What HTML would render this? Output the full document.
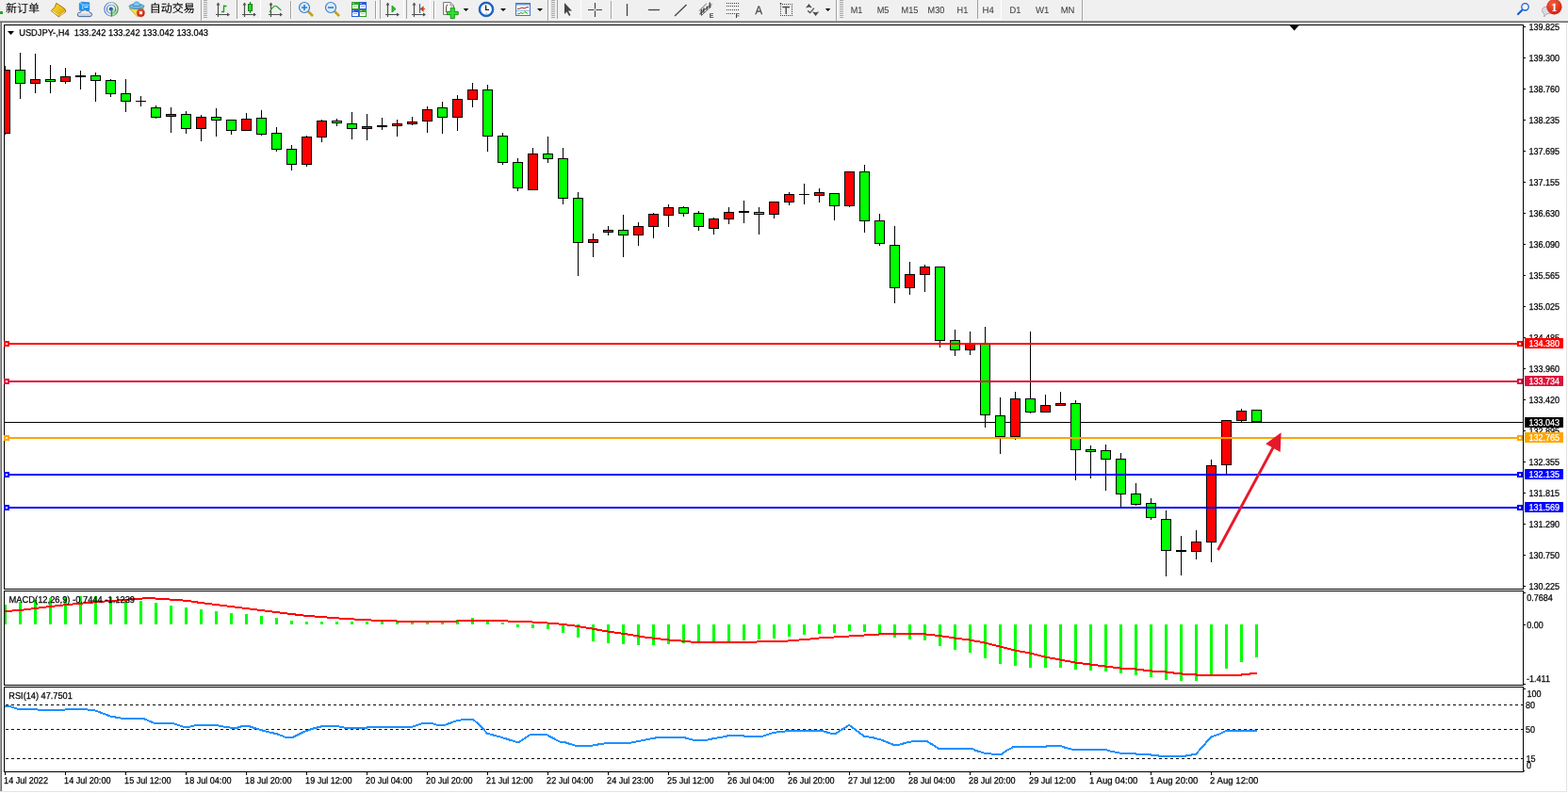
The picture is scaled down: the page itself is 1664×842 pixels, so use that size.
<!DOCTYPE html><html><head><meta charset="utf-8"><title>USDJPY-,H4</title><style>html,body{margin:0;padding:0;background:#f0f0f0;}body{width:1664px;height:842px;overflow:hidden;}svg{display:block;}</style></head><body><svg width="1664" height="842" viewBox="0 0 1664 842" shape-rendering="crispEdges">
<style>.ax{font-family:'Liberation Sans', Arial, sans-serif;font-size:10px;fill:#000;stroke:#000;stroke-width:0.25px}.ax.axw{fill:#fff;stroke:#fff}.tf{font-family:'Liberation Sans', Arial, sans-serif;font-size:9.9px;fill:#3c3c3c;stroke:#3c3c3c;stroke-width:0.05px}.cjk{font-family:'Liberation Sans', 'Noto Sans CJK SC', 'WenQuanYi Zen Hei', sans-serif;font-size:12px;fill:#000;stroke:#000;stroke-width:0.08px}text{shape-rendering:auto;text-rendering:geometricPrecision}</style>
<rect x="0" y="0" width="1664" height="22" fill="#f0f0f0"/>
<g shape-rendering="auto">
<rect x="0" y="12" width="3" height="3" fill="#1fae1f"/>
<text x="6" y="12.9" class="cjk">新订单</text>
<defs><linearGradient id="gbook" x1="0" y1="0" x2="1" y2="1"><stop offset="0" stop-color="#ffe040"/><stop offset="0.6" stop-color="#e8b818"/><stop offset="1" stop-color="#c88c10"/></linearGradient><linearGradient id="gcloud" x1="0" y1="0" x2="0" y2="1"><stop offset="0" stop-color="#ffffff"/><stop offset="1" stop-color="#b8c4d8"/></linearGradient><radialGradient id="gred" cx="0.4" cy="0.3" r="0.8"><stop offset="0" stop-color="#f06040"/><stop offset="1" stop-color="#d01808"/></radialGradient></defs>
<path d="M54.3,11.6 L58.4,7.2 L59.8,3.3 L68.8,9.4 L69.8,12.4 L62.3,17.8 Z" fill="url(#gbook)" stroke="#a06410" stroke-width="0.9" stroke-linejoin="round"/>
<path d="M55.5,12 L62,16.3 M63.5,16.5 L69,12.2" stroke="#f8e8a0" stroke-width="1" fill="none"/>
<path d="M84.3,3.5 L86.5,2.2 L94.8,2.8 L94.8,11 L84.3,11 Z" fill="#1898f0" stroke="#1a70d0" stroke-width="0.6"/>
<path d="M85,2.8 L87.8,5.2 L87.8,10.5 M88,5.2 L94.5,5.2" stroke="#d0f0ff" stroke-width="0.8" fill="none"/>
<path d="M89.5,7.5 L93.5,7.2" stroke="#ffffff" stroke-width="1.1"/>
<path d="M84.2,17.6 Q81.8,17.4 82.3,14.8 Q82.9,12.6 85.3,13.3 Q85.6,10.6 88.5,11.2 Q90.3,9.8 92.2,11.6 Q94.6,10.9 95.2,13.2 Q97.8,13.4 97.6,15.6 Q97.3,17.7 95.2,17.6 Z" fill="url(#gcloud)" stroke="#3c5c94" stroke-width="0.9"/>
<defs><linearGradient id="gring" x1="0" y1="0" x2="1" y2="0"><stop offset="0" stop-color="#4a78d8"/><stop offset="0.55" stop-color="#9ab8d8"/><stop offset="1" stop-color="#3a9050"/></linearGradient></defs>
<path d="M118,9.7 L125.3,9.7 A7.3,7.3 0 0 1 118,17 Z" fill="#b8e0b0"/>
<circle cx="118" cy="9.7" r="7.2" fill="none" stroke="url(#gring)" stroke-width="1.1"/>
<circle cx="118" cy="9.7" r="4.6" fill="none" stroke="url(#gring)" stroke-width="1.1"/>
<circle cx="117.8" cy="9.5" r="2.1" fill="#2858c8"/>
<path d="M118.4,10 L118.4,17.6" stroke="#20a020" stroke-width="1.5"/>
<path d="M137.3,9 L152.5,9 L146,17.8 Z" fill="#f4dc50" stroke="#c89818" stroke-width="0.8" stroke-linejoin="round"/>
<ellipse cx="145" cy="6.8" rx="8" ry="2.6" fill="#6cbcec" stroke="#2a80b0" stroke-width="0.8"/>
<path d="M141.2,6.5 Q141.5,2 145,2 Q148.5,2 148.8,6.5 Z" fill="#7cc8f2" stroke="#2a80b0" stroke-width="0.7"/>
<circle cx="149.4" cy="13.7" r="4" fill="url(#gred)" stroke="#b01000" stroke-width="0.5"/>
<rect x="148" y="12.2" width="3" height="3" fill="#fff"/>
</g>
<text x="158.8" y="12.9" class="cjk">自动交易</text>
<defs><pattern id="chk" width="2" height="2" patternUnits="userSpaceOnUse"><rect width="2" height="2" fill="#f7f7f7"/><rect width="1" height="1" fill="#ececec"/><rect x="1" y="1" width="1" height="1" fill="#ececec"/></pattern></defs>
<rect x="213" y="0" width="1" height="22" fill="#a0a0a0"/>
<rect x="214" y="0" width="1" height="22" fill="#ffffff"/>
<rect x="216" y="0" width="4" height="1" fill="#a8a8a8"/>
<rect x="216" y="2" width="4" height="1" fill="#a8a8a8"/>
<rect x="216" y="4" width="4" height="1" fill="#a8a8a8"/>
<rect x="216" y="6" width="4" height="1" fill="#a8a8a8"/>
<rect x="216" y="8" width="4" height="1" fill="#a8a8a8"/>
<rect x="216" y="10" width="4" height="1" fill="#a8a8a8"/>
<rect x="216" y="12" width="4" height="1" fill="#a8a8a8"/>
<rect x="216" y="14" width="4" height="1" fill="#a8a8a8"/>
<rect x="216" y="16" width="4" height="1" fill="#a8a8a8"/>
<rect x="216" y="18" width="4" height="1" fill="#a8a8a8"/>
<rect x="252" y="0" width="24" height="20" fill="url(#chk)"/>
<rect x="276" y="0" width="1" height="21" fill="#ffffff"/>
<rect x="251" y="20" width="26" height="1" fill="#ffffff"/>
<rect x="404" y="0" width="24" height="20" fill="url(#chk)"/>
<rect x="428" y="0" width="1" height="21" fill="#ffffff"/>
<rect x="403" y="20" width="26" height="1" fill="#ffffff"/>
<rect x="432" y="0" width="24" height="20" fill="url(#chk)"/>
<rect x="456" y="0" width="1" height="21" fill="#ffffff"/>
<rect x="431" y="20" width="26" height="1" fill="#ffffff"/>
<rect x="592" y="0" width="24" height="20" fill="url(#chk)"/>
<rect x="616" y="0" width="1" height="21" fill="#ffffff"/>
<rect x="591" y="20" width="26" height="1" fill="#ffffff"/>
<rect x="1038" y="0" width="24" height="20" fill="url(#chk)"/>
<rect x="1062" y="0" width="1" height="21" fill="#ffffff"/>
<rect x="1037" y="20" width="26" height="1" fill="#ffffff"/>
<g shape-rendering="auto">
<path d="M231.5,3 L231.5,18 M229,15.5 L243,15.5" stroke="#505050" stroke-width="1.2" fill="none"/>
<path d="M229.5,5.5 L231.5,2.5 L233.5,5.5 Z M241,13.5 L244,15.5 L241,17.5 Z" fill="#505050"/>
<path d="M237.5,13 L237.5,5.5 M235,12.5 L238,12.5 M238,6.5 L240.5,6.5" stroke="#18a018" stroke-width="1.3" fill="none"/>
<rect x="251" y="1" width="1" height="19" fill="#a0a0a0"/>
<rect x="252" y="1" width="1" height="19" fill="#ffffff"/>
<path d="M259.5,3 L259.5,18 M257,15.5 L271,15.5" stroke="#505050" stroke-width="1.2" fill="none"/>
<path d="M257.5,5.5 L259.5,2.5 L261.5,5.5 Z M269,13.5 L272,15.5 L269,17.5 Z" fill="#505050"/>
<path d="M265.5,2 L265.5,14" stroke="#109010" stroke-width="1.2"/>
<rect x="263.5" y="4.5" width="4" height="7" fill="#30d030" stroke="#108010"/>
<path d="M287.5,3 L287.5,18 M285,15.5 L299,15.5" stroke="#505050" stroke-width="1.2" fill="none"/>
<path d="M285.5,5.5 L287.5,2.5 L289.5,5.5 Z M297,13.5 L300,15.5 L297,17.5 Z" fill="#505050"/>
<path d="M286,13 Q291,4 294,7 T298.5,11" stroke="#30a030" stroke-width="1.2" fill="none"/>
<rect x="308" y="1" width="1" height="19" fill="#a0a0a0"/>
<rect x="309" y="1" width="1" height="19" fill="#ffffff"/>
<path d="M326,11 L332,17" stroke="#c8a020" stroke-width="2.6"/>
<circle cx="323" cy="8" r="5.5" fill="#d8ecfa" stroke="#3a80c8" stroke-width="1.2"/>
<path d="M320,8 L326,8 M323,5 L323,11" stroke="#3a7ab8" stroke-width="1.6"/>
<path d="M354,11 L360,17" stroke="#c8a020" stroke-width="2.6"/>
<circle cx="351" cy="8" r="5.5" fill="#d8ecfa" stroke="#3a80c8" stroke-width="1.2"/>
<path d="M348,8 L354,8" stroke="#3a7ab8" stroke-width="1.6"/>
<rect x="373" y="2" width="8" height="8" fill="#2ea02e"/><rect x="381" y="2" width="8" height="8" fill="#2a5ed8"/>
<rect x="373" y="10" width="8" height="8" fill="#2a5ed8"/><rect x="381" y="10" width="8" height="8" fill="#2ea02e"/>
<rect x="374" y="5" width="6" height="4" rx="0.5" fill="#ffffff"/>
<rect x="375" y="6" width="4" height="1" fill="#a8d890"/>
<rect x="374.5" y="3" width="1" height="1" fill="#e8f0e8"/>
<rect x="382" y="5" width="6" height="4" rx="0.5" fill="#ffffff"/>
<rect x="383" y="6" width="4" height="1" fill="#90a8e8"/>
<rect x="382.5" y="3" width="1" height="1" fill="#e8f0e8"/>
<rect x="374" y="13" width="6" height="4" rx="0.5" fill="#ffffff"/>
<rect x="375" y="14" width="4" height="1" fill="#90a8e8"/>
<rect x="374.5" y="11" width="1" height="1" fill="#e8f0e8"/>
<rect x="382" y="13" width="6" height="4" rx="0.5" fill="#ffffff"/>
<rect x="383" y="14" width="4" height="1" fill="#a8d890"/>
<rect x="382.5" y="11" width="1" height="1" fill="#e8f0e8"/>
<rect x="398" y="1" width="1" height="19" fill="#a0a0a0"/>
<rect x="399" y="1" width="1" height="19" fill="#ffffff"/>
<rect x="403" y="1" width="1" height="19" fill="#a0a0a0"/>
<rect x="404" y="1" width="1" height="19" fill="#ffffff"/>
<path d="M411.5,3 L411.5,18 M409,15.5 L423,15.5" stroke="#505050" stroke-width="1.2" fill="none"/>
<path d="M409.5,5.5 L411.5,2.5 L413.5,5.5 Z M421,13.5 L424,15.5 L421,17.5 Z" fill="#505050"/>
<path d="M416,6 L420,9.5 L416,13 Z" fill="#30c030" stroke="#109010" stroke-width="0.8"/>
<rect x="431" y="1" width="1" height="19" fill="#a0a0a0"/>
<rect x="432" y="1" width="1" height="19" fill="#ffffff"/>
<path d="M439.5,3 L439.5,18 M437,15.5 L451,15.5" stroke="#505050" stroke-width="1.2" fill="none"/>
<path d="M437.5,5.5 L439.5,2.5 L441.5,5.5 Z M449,13.5 L452,15.5 L449,17.5 Z" fill="#505050"/>
<path d="M445.5,4 L445.5,14" stroke="#2070c0" stroke-width="1.2"/>
<path d="M447,9.5 L451,9.5 M446.5,9.5 L449,7.5 L449,11.5 Z" stroke="#d04010" stroke-width="1.2" fill="#d04010"/>
<rect x="460" y="1" width="1" height="19" fill="#a0a0a0"/>
<rect x="461" y="1" width="1" height="19" fill="#ffffff"/>
<path d="M470.5,2.5 L478,2.5 L481.5,6 L481.5,15.5 L470.5,15.5 Z" fill="#fbfbfb" stroke="#7a7a7a"/>
<path d="M478,2.5 L478,6 L481.5,6" fill="none" stroke="#7a7a7a" stroke-width="0.8"/>
<path d="M475.5,5 Q473.5,5 473.5,8 L473.5,13" stroke="#504030" stroke-width="0.9" fill="none"/>
<path d="M478.2,8.3 L482.3,8.3 L482.3,12.3 L486.2,12.3 L486.2,15.6 L482.3,15.6 L482.3,19.6 L478.2,19.6 L478.2,15.6 L474.5,15.6 L474.5,12.3 L478.2,12.3 Z" fill="#2ee02e" stroke="#0c8a0c" stroke-width="0.9"/>
<path d="M491.7,9 L497.3,9 L494.5,12 Z" fill="#000"/>
<circle cx="516" cy="9.9" r="6.9" fill="#fafcff" stroke="#1464cc" stroke-width="2"/>
<circle cx="516" cy="9.9" r="7.9" fill="none" stroke="#0a4aa0" stroke-width="0.6"/>
<path d="M515.6,5.5 L515.6,10.3 L519,10.3" stroke="#202020" stroke-width="1.2" fill="none"/>
<path d="M515.5,14.3 L517,14.3" stroke="#60a0f0" stroke-width="0.8"/>
<path d="M531,9 L537,9 L534,12 Z" fill="#000"/>
<rect x="547.5" y="3.5" width="15" height="13" fill="#ffffff" stroke="#3c78c8"/>
<rect x="548" y="4" width="14" height="1.5" fill="#6aa0e0"/>
<path d="M549,9.5 L552,9 L554,8 L556,9 L558,8 L561,7.5" stroke="#a02010" stroke-width="1" fill="none"/>
<rect x="548" y="11" width="14" height="0.8" fill="#7aa8e0"/>
<path d="M549,15 L551,14.5 L553,13.5 L555,14.5 L557,12.5 L560,14.5" stroke="#10a010" stroke-width="1" fill="none"/>
<path d="M570,9 L576,9 L573,12 Z" fill="#000"/>
</g>
<rect x="581" y="0" width="1" height="22" fill="#a0a0a0"/>
<rect x="582" y="0" width="1" height="22" fill="#ffffff"/>
<rect x="585" y="0" width="4" height="1" fill="#a8a8a8"/>
<rect x="585" y="2" width="4" height="1" fill="#a8a8a8"/>
<rect x="585" y="4" width="4" height="1" fill="#a8a8a8"/>
<rect x="585" y="6" width="4" height="1" fill="#a8a8a8"/>
<rect x="585" y="8" width="4" height="1" fill="#a8a8a8"/>
<rect x="585" y="10" width="4" height="1" fill="#a8a8a8"/>
<rect x="585" y="12" width="4" height="1" fill="#a8a8a8"/>
<rect x="585" y="14" width="4" height="1" fill="#a8a8a8"/>
<rect x="585" y="16" width="4" height="1" fill="#a8a8a8"/>
<rect x="585" y="18" width="4" height="1" fill="#a8a8a8"/>
<g shape-rendering="auto">
<rect x="591" y="1" width="1" height="19" fill="#a0a0a0"/>
<rect x="592" y="1" width="1" height="19" fill="#ffffff"/>
<path d="M599,3 L599,15 L601.5,12.5 L604,17 L605.5,16 L603,11.5 L607,11.5 Z" fill="#454545"/>
<path d="M631.5,3 L631.5,9.5 M631.5,11.5 L631.5,18 M624,10.5 L630.5,10.5 M632.5,10.5 L639,10.5" stroke="#454545" stroke-width="1.2"/>
<rect x="648" y="1" width="1" height="19" fill="#a0a0a0"/>
<rect x="649" y="1" width="1" height="19" fill="#ffffff"/>
<path d="M665.5,4 L665.5,17" stroke="#454545" stroke-width="1.3"/>
<path d="M688,10.5 L700,10.5" stroke="#454545" stroke-width="1.3"/>
<path d="M716,17 L728.5,5" stroke="#454545" stroke-width="1.3"/>
<path d="M741.8,11.6 L749.8,3.8" stroke="#555" stroke-width="0.9" fill="none"/>
<path d="M744.2,16.6 L755,6.5" stroke="#555" stroke-width="0.9" fill="none"/>
<path d="M744.5,16.2 Q743.5,12 745,10 M747,13.5 Q746,10 747.5,8.5 M750.3,10.5 Q749.5,8 750.5,6.5 M753.3,8.5 Q752.5,5 753.5,2.5" stroke="#404040" stroke-width="1.3" fill="none"/>
<path d="M742.3,15 L746,12.5 M745,12.6 L749,9.5 M748.5,9.8 L752.3,7 M751.5,7.3 L755.5,4.3" stroke="#404040" stroke-width="1" fill="none"/>
<text x="752.8" y="19" font-size="7" font-weight="bold" fill="#404040" font-family="Liberation Sans">E</text>
<path d="M771,3.5 L784.5,3.5" stroke="#404040" stroke-width="1" stroke-dasharray="1,1"/>
<path d="M771,6.5 L784.5,6.5" stroke="#404040" stroke-width="1" stroke-dasharray="1,1"/>
<path d="M771,10.5 L784.5,10.5" stroke="#404040" stroke-width="1" stroke-dasharray="1,1"/>
<path d="M771,14.5 L780.5,14.5" stroke="#404040" stroke-width="1" stroke-dasharray="1,1"/>
<text x="780.6" y="19" font-size="7" font-weight="bold" fill="#404040" font-family="Liberation Sans">F</text>
<g transform="translate(801.6,15) scale(0.9,1)"><text font-size="12.5" fill="#4a4a4a" stroke="#4a4a4a" stroke-width="0.3" font-family="Liberation Sans">A</text></g>
<rect x="828" y="4" width="1" height="1" fill="#404040"/>
<rect x="828" y="16" width="1" height="1" fill="#404040"/>
<rect x="830" y="4" width="1" height="1" fill="#404040"/>
<rect x="830" y="16" width="1" height="1" fill="#404040"/>
<rect x="832" y="4" width="1" height="1" fill="#404040"/>
<rect x="832" y="16" width="1" height="1" fill="#404040"/>
<rect x="834" y="4" width="1" height="1" fill="#404040"/>
<rect x="834" y="16" width="1" height="1" fill="#404040"/>
<rect x="836" y="4" width="1" height="1" fill="#404040"/>
<rect x="836" y="16" width="1" height="1" fill="#404040"/>
<rect x="838" y="4" width="1" height="1" fill="#404040"/>
<rect x="838" y="16" width="1" height="1" fill="#404040"/>
<rect x="840" y="4" width="1" height="1" fill="#404040"/>
<rect x="840" y="16" width="1" height="1" fill="#404040"/>
<rect x="828" y="6" width="1" height="1" fill="#404040"/>
<rect x="840" y="6" width="1" height="1" fill="#404040"/>
<rect x="828" y="8" width="1" height="1" fill="#404040"/>
<rect x="840" y="8" width="1" height="1" fill="#404040"/>
<rect x="828" y="10" width="1" height="1" fill="#404040"/>
<rect x="840" y="10" width="1" height="1" fill="#404040"/>
<rect x="828" y="12" width="1" height="1" fill="#404040"/>
<rect x="840" y="12" width="1" height="1" fill="#404040"/>
<rect x="828" y="14" width="1" height="1" fill="#404040"/>
<rect x="840" y="14" width="1" height="1" fill="#404040"/>
<rect x="827.8" y="3" width="1.5" height="1.5" fill="#404040"/>
<path d="M830.3,7.5 L838,7.5 M834.2,7.5 L834.2,15" stroke="#4a4a4a" stroke-width="1.4"/>
<path d="M855,8.4 L858.4,4 L861.9,8.4 L858.4,7.4 Z M862,12.2 L865.6,13.2 L869.3,12.2 L865.6,16.9 Z" fill="#484848"/>
<path d="M857.2,11.3 L859.6,13.6 L863.9,8.7" stroke="#484848" stroke-width="1.2" fill="none"/>
<path d="M875.9,9 L881.3,9 L878.6,12 Z" fill="#000"/>
</g>
<rect x="887" y="0" width="1" height="22" fill="#a0a0a0"/>
<rect x="888" y="0" width="1" height="22" fill="#ffffff"/>
<rect x="891" y="0" width="4" height="1" fill="#a8a8a8"/>
<rect x="891" y="2" width="4" height="1" fill="#a8a8a8"/>
<rect x="891" y="4" width="4" height="1" fill="#a8a8a8"/>
<rect x="891" y="6" width="4" height="1" fill="#a8a8a8"/>
<rect x="891" y="8" width="4" height="1" fill="#a8a8a8"/>
<rect x="891" y="10" width="4" height="1" fill="#a8a8a8"/>
<rect x="891" y="12" width="4" height="1" fill="#a8a8a8"/>
<rect x="891" y="14" width="4" height="1" fill="#a8a8a8"/>
<rect x="891" y="16" width="4" height="1" fill="#a8a8a8"/>
<rect x="891" y="18" width="4" height="1" fill="#a8a8a8"/>
<g transform="translate(902.7,14) scale(0.92,1)"><text class="tf">M1</text></g>
<g transform="translate(930.7,14) scale(0.93,1)"><text class="tf">M5</text></g>
<g transform="translate(956.6,14) scale(0.93,1)"><text class="tf">M15</text></g>
<g transform="translate(984.6,14) scale(0.925,1)"><text class="tf">M30</text></g>
<g transform="translate(1015.5,14) scale(0.93,1)"><text class="tf">H1</text></g>
<g transform="translate(1042.5,14) scale(0.97,1)"><text class="tf">H4</text></g>
<g transform="translate(1071.6,14) scale(0.94,1)"><text class="tf">D1</text></g>
<g transform="translate(1099.0,14) scale(0.97,1)"><text class="tf">W1</text></g>
<g transform="translate(1125.7,14) scale(0.96,1)"><text class="tf">MN</text></g>
<rect x="1037" y="1" width="1" height="19" fill="#a0a0a0"/>
<rect x="1038" y="1" width="1" height="19" fill="#ffffff"/>
<rect x="1148" y="0" width="1" height="22" fill="#a0a0a0"/>
<rect x="1149" y="0" width="1" height="22" fill="#ffffff"/>
<rect x="252" y="0" width="1" height="20" fill="url(#chk)"/>
<rect x="251" y="0" width="1" height="20" fill="#a0a0a0"/>
<rect x="404" y="0" width="1" height="20" fill="url(#chk)"/>
<rect x="403" y="0" width="1" height="20" fill="#a0a0a0"/>
<rect x="432" y="0" width="1" height="20" fill="url(#chk)"/>
<rect x="431" y="0" width="1" height="20" fill="#a0a0a0"/>
<rect x="592" y="0" width="1" height="20" fill="url(#chk)"/>
<rect x="591" y="0" width="1" height="20" fill="#a0a0a0"/>
<rect x="1038" y="0" width="1" height="20" fill="url(#chk)"/>
<rect x="1037" y="0" width="1" height="20" fill="#a0a0a0"/>
<g shape-rendering="auto">
<path d="M1615,11 L1611,15" stroke="#1a5fd0" stroke-width="2.2" stroke-linecap="round"/>
<circle cx="1618.5" cy="7.3" r="3.7" fill="#f4f6ff" stroke="#1a5fd0" stroke-width="1.3"/>
<path d="M1637,13 Q1635,8 1641,7 L1645,7 Q1648,9 1646,14 L1641,15 L1638.5,18 L1639,15 Z" fill="#dcdce6" stroke="#a0a0a0" stroke-width="0.8"/>
<circle cx="1649.4" cy="7.3" r="8.2" fill="url(#gred)"/>
<text x="1646.2" y="12.2" font-size="12.5" font-weight="bold" fill="#fff" font-family="Liberation Serif">1</text>
</g>
<rect x="2" y="24" width="1660" height="816" fill="#ffffff"/>
<rect x="0" y="22" width="1664" height="1" fill="#a0a0a0"/>
<rect x="0" y="23" width="1664" height="1" fill="#696969"/>
<rect x="0" y="24" width="1" height="816" fill="#a0a0a0"/>
<rect x="1" y="24" width="1" height="816" fill="#696969"/>
<rect x="1662" y="24" width="1" height="817" fill="#e3e3e3"/>
<rect x="0" y="840" width="1663" height="1" fill="#e3e3e3"/>
<rect x="1663" y="24" width="1" height="818" fill="#ffffff"/>
<rect x="0" y="841" width="1664" height="1" fill="#ffffff"/>
<defs><clipPath id="cm"><rect x="5" y="27" width="1611" height="598"/></clipPath><clipPath id="cmacd"><rect x="5" y="628" width="1611" height="99"/></clipPath><clipPath id="crsi"><rect x="5" y="730" width="1611" height="89"/></clipPath></defs>
<g clip-path="url(#cm)">
<rect x="5" y="448" width="1611" height="1" fill="#000000"/>
<rect x="5" y="70" width="1" height="73" fill="#000"/>
<rect x="0" y="74" width="11" height="68" fill="#000"/>
<rect x="1" y="75" width="9" height="66" fill="#ff0000"/>
<rect x="21" y="56" width="1" height="49" fill="#000"/>
<rect x="16" y="74" width="11" height="15" fill="#000"/>
<rect x="17" y="75" width="9" height="13" fill="#00ff00"/>
<rect x="37" y="57" width="1" height="42" fill="#000"/>
<rect x="32" y="84" width="11" height="5" fill="#000"/>
<rect x="33" y="85" width="9" height="3" fill="#ff0000"/>
<rect x="53" y="69" width="1" height="30" fill="#000"/>
<rect x="48" y="84" width="11" height="3" fill="#000"/>
<rect x="49" y="85" width="9" height="1" fill="#00ff00"/>
<rect x="69" y="72" width="1" height="17" fill="#000"/>
<rect x="64" y="81" width="11" height="6" fill="#000"/>
<rect x="65" y="82" width="9" height="4" fill="#ff0000"/>
<rect x="85" y="75" width="1" height="20" fill="#000"/>
<rect x="80" y="80" width="11" height="2" fill="#000"/>
<rect x="101" y="77" width="1" height="31" fill="#000"/>
<rect x="96" y="80" width="11" height="6" fill="#000"/>
<rect x="97" y="81" width="9" height="4" fill="#00ff00"/>
<rect x="117" y="84" width="1" height="19" fill="#000"/>
<rect x="112" y="85" width="11" height="15" fill="#000"/>
<rect x="113" y="86" width="9" height="13" fill="#00ff00"/>
<rect x="133" y="84" width="1" height="35" fill="#000"/>
<rect x="128" y="99" width="11" height="9" fill="#000"/>
<rect x="129" y="100" width="9" height="7" fill="#00ff00"/>
<rect x="149" y="102" width="1" height="11" fill="#000"/>
<rect x="144" y="107" width="11" height="1" fill="#000"/>
<rect x="165" y="112" width="1" height="14" fill="#000"/>
<rect x="160" y="114" width="11" height="11" fill="#000"/>
<rect x="161" y="115" width="9" height="9" fill="#00ff00"/>
<rect x="181" y="114" width="1" height="27" fill="#000"/>
<rect x="176" y="121" width="11" height="3" fill="#000"/>
<rect x="177" y="122" width="9" height="1" fill="#ff0000"/>
<rect x="197" y="118" width="1" height="24" fill="#000"/>
<rect x="192" y="121" width="11" height="16" fill="#000"/>
<rect x="193" y="122" width="9" height="14" fill="#00ff00"/>
<rect x="213" y="122" width="1" height="28" fill="#000"/>
<rect x="208" y="124" width="11" height="13" fill="#000"/>
<rect x="209" y="125" width="9" height="11" fill="#ff0000"/>
<rect x="229" y="115" width="1" height="30" fill="#000"/>
<rect x="224" y="124" width="11" height="4" fill="#000"/>
<rect x="225" y="125" width="9" height="2" fill="#00ff00"/>
<rect x="245" y="127" width="1" height="16" fill="#000"/>
<rect x="240" y="127" width="11" height="12" fill="#000"/>
<rect x="241" y="128" width="9" height="10" fill="#00ff00"/>
<rect x="261" y="120" width="1" height="19" fill="#000"/>
<rect x="256" y="126" width="11" height="13" fill="#000"/>
<rect x="257" y="127" width="9" height="11" fill="#ff0000"/>
<rect x="277" y="117" width="1" height="27" fill="#000"/>
<rect x="272" y="125" width="11" height="18" fill="#000"/>
<rect x="273" y="126" width="9" height="16" fill="#00ff00"/>
<rect x="293" y="135" width="1" height="26" fill="#000"/>
<rect x="288" y="141" width="11" height="18" fill="#000"/>
<rect x="289" y="142" width="9" height="16" fill="#00ff00"/>
<rect x="309" y="154" width="1" height="27" fill="#000"/>
<rect x="304" y="158" width="11" height="17" fill="#000"/>
<rect x="305" y="159" width="9" height="15" fill="#00ff00"/>
<rect x="325" y="144" width="1" height="33" fill="#000"/>
<rect x="320" y="145" width="11" height="30" fill="#000"/>
<rect x="321" y="146" width="9" height="28" fill="#ff0000"/>
<rect x="341" y="127" width="1" height="24" fill="#000"/>
<rect x="336" y="128" width="11" height="18" fill="#000"/>
<rect x="337" y="129" width="9" height="16" fill="#ff0000"/>
<rect x="357" y="126" width="1" height="8" fill="#000"/>
<rect x="352" y="128" width="11" height="3" fill="#000"/>
<rect x="353" y="129" width="9" height="1" fill="#00ff00"/>
<rect x="373" y="119" width="1" height="29" fill="#000"/>
<rect x="368" y="131" width="11" height="6" fill="#000"/>
<rect x="369" y="132" width="9" height="4" fill="#00ff00"/>
<rect x="389" y="121" width="1" height="28" fill="#000"/>
<rect x="384" y="134" width="11" height="3" fill="#000"/>
<rect x="385" y="135" width="9" height="1" fill="#ff0000"/>
<rect x="405" y="125" width="1" height="13" fill="#000"/>
<rect x="400" y="133" width="11" height="2" fill="#000"/>
<rect x="421" y="127" width="1" height="18" fill="#000"/>
<rect x="416" y="131" width="11" height="3" fill="#000"/>
<rect x="417" y="132" width="9" height="1" fill="#ff0000"/>
<rect x="437" y="124" width="1" height="9" fill="#000"/>
<rect x="432" y="129" width="11" height="3" fill="#000"/>
<rect x="433" y="130" width="9" height="1" fill="#ff0000"/>
<rect x="453" y="113" width="1" height="28" fill="#000"/>
<rect x="448" y="116" width="11" height="13" fill="#000"/>
<rect x="449" y="117" width="9" height="11" fill="#ff0000"/>
<rect x="469" y="108" width="1" height="34" fill="#000"/>
<rect x="464" y="114" width="11" height="11" fill="#000"/>
<rect x="465" y="115" width="9" height="9" fill="#00ff00"/>
<rect x="485" y="101" width="1" height="38" fill="#000"/>
<rect x="480" y="105" width="11" height="20" fill="#000"/>
<rect x="481" y="106" width="9" height="18" fill="#ff0000"/>
<rect x="501" y="88" width="1" height="26" fill="#000"/>
<rect x="496" y="95" width="11" height="11" fill="#000"/>
<rect x="497" y="96" width="9" height="9" fill="#ff0000"/>
<rect x="517" y="90" width="1" height="71" fill="#000"/>
<rect x="512" y="95" width="11" height="50" fill="#000"/>
<rect x="513" y="96" width="9" height="48" fill="#00ff00"/>
<rect x="533" y="141" width="1" height="34" fill="#000"/>
<rect x="528" y="144" width="11" height="29" fill="#000"/>
<rect x="529" y="145" width="9" height="27" fill="#00ff00"/>
<rect x="549" y="168" width="1" height="35" fill="#000"/>
<rect x="544" y="172" width="11" height="28" fill="#000"/>
<rect x="545" y="173" width="9" height="26" fill="#00ff00"/>
<rect x="565" y="157" width="1" height="45" fill="#000"/>
<rect x="560" y="163" width="11" height="39" fill="#000"/>
<rect x="561" y="164" width="9" height="37" fill="#ff0000"/>
<rect x="581" y="145" width="1" height="28" fill="#000"/>
<rect x="576" y="163" width="11" height="6" fill="#000"/>
<rect x="577" y="164" width="9" height="4" fill="#00ff00"/>
<rect x="597" y="157" width="1" height="60" fill="#000"/>
<rect x="592" y="168" width="11" height="43" fill="#000"/>
<rect x="593" y="169" width="9" height="41" fill="#00ff00"/>
<rect x="613" y="204" width="1" height="89" fill="#000"/>
<rect x="608" y="210" width="11" height="48" fill="#000"/>
<rect x="609" y="211" width="9" height="46" fill="#00ff00"/>
<rect x="629" y="248" width="1" height="25" fill="#000"/>
<rect x="624" y="254" width="11" height="4" fill="#000"/>
<rect x="625" y="255" width="9" height="2" fill="#ff0000"/>
<rect x="645" y="240" width="1" height="10" fill="#000"/>
<rect x="640" y="244" width="11" height="3" fill="#000"/>
<rect x="641" y="245" width="9" height="1" fill="#ff0000"/>
<rect x="661" y="228" width="1" height="45" fill="#000"/>
<rect x="656" y="244" width="11" height="6" fill="#000"/>
<rect x="657" y="245" width="9" height="4" fill="#00ff00"/>
<rect x="677" y="236" width="1" height="25" fill="#000"/>
<rect x="672" y="240" width="11" height="10" fill="#000"/>
<rect x="673" y="241" width="9" height="8" fill="#ff0000"/>
<rect x="693" y="226" width="1" height="27" fill="#000"/>
<rect x="688" y="227" width="11" height="14" fill="#000"/>
<rect x="689" y="228" width="9" height="12" fill="#ff0000"/>
<rect x="709" y="217" width="1" height="24" fill="#000"/>
<rect x="704" y="220" width="11" height="9" fill="#000"/>
<rect x="705" y="221" width="9" height="7" fill="#ff0000"/>
<rect x="725" y="219" width="1" height="11" fill="#000"/>
<rect x="720" y="220" width="11" height="7" fill="#000"/>
<rect x="721" y="221" width="9" height="5" fill="#00ff00"/>
<rect x="741" y="224" width="1" height="21" fill="#000"/>
<rect x="736" y="226" width="11" height="15" fill="#000"/>
<rect x="737" y="227" width="9" height="13" fill="#00ff00"/>
<rect x="757" y="231" width="1" height="18" fill="#000"/>
<rect x="752" y="232" width="11" height="11" fill="#000"/>
<rect x="753" y="233" width="9" height="9" fill="#ff0000"/>
<rect x="773" y="220" width="1" height="18" fill="#000"/>
<rect x="768" y="225" width="11" height="8" fill="#000"/>
<rect x="769" y="226" width="9" height="6" fill="#ff0000"/>
<rect x="789" y="213" width="1" height="24" fill="#000"/>
<rect x="784" y="224" width="11" height="2" fill="#000"/>
<rect x="805" y="220" width="1" height="29" fill="#000"/>
<rect x="800" y="225" width="11" height="3" fill="#000"/>
<rect x="801" y="226" width="9" height="1" fill="#00ff00"/>
<rect x="821" y="214" width="1" height="18" fill="#000"/>
<rect x="816" y="214" width="11" height="14" fill="#000"/>
<rect x="817" y="215" width="9" height="12" fill="#ff0000"/>
<rect x="837" y="204" width="1" height="14" fill="#000"/>
<rect x="832" y="206" width="11" height="9" fill="#000"/>
<rect x="833" y="207" width="9" height="7" fill="#ff0000"/>
<rect x="853" y="195" width="1" height="22" fill="#000"/>
<rect x="848" y="206" width="11" height="1" fill="#000"/>
<rect x="869" y="200" width="1" height="15" fill="#000"/>
<rect x="864" y="204" width="11" height="4" fill="#000"/>
<rect x="865" y="205" width="9" height="2" fill="#ff0000"/>
<rect x="885" y="205" width="1" height="29" fill="#000"/>
<rect x="880" y="205" width="11" height="14" fill="#000"/>
<rect x="881" y="206" width="9" height="12" fill="#00ff00"/>
<rect x="901" y="182" width="1" height="38" fill="#000"/>
<rect x="896" y="182" width="11" height="37" fill="#000"/>
<rect x="897" y="183" width="9" height="35" fill="#ff0000"/>
<rect x="917" y="175" width="1" height="72" fill="#000"/>
<rect x="912" y="182" width="11" height="53" fill="#000"/>
<rect x="913" y="183" width="9" height="51" fill="#00ff00"/>
<rect x="933" y="227" width="1" height="34" fill="#000"/>
<rect x="928" y="234" width="11" height="25" fill="#000"/>
<rect x="929" y="235" width="9" height="23" fill="#00ff00"/>
<rect x="949" y="240" width="1" height="82" fill="#000"/>
<rect x="944" y="260" width="11" height="46" fill="#000"/>
<rect x="945" y="261" width="9" height="44" fill="#00ff00"/>
<rect x="965" y="278" width="1" height="35" fill="#000"/>
<rect x="960" y="291" width="11" height="15" fill="#000"/>
<rect x="961" y="292" width="9" height="13" fill="#ff0000"/>
<rect x="981" y="281" width="1" height="29" fill="#000"/>
<rect x="976" y="283" width="11" height="9" fill="#000"/>
<rect x="977" y="284" width="9" height="7" fill="#ff0000"/>
<rect x="997" y="283" width="1" height="86" fill="#000"/>
<rect x="992" y="283" width="11" height="79" fill="#000"/>
<rect x="993" y="284" width="9" height="77" fill="#00ff00"/>
<rect x="1013" y="350" width="1" height="28" fill="#000"/>
<rect x="1008" y="361" width="11" height="11" fill="#000"/>
<rect x="1009" y="362" width="9" height="9" fill="#00ff00"/>
<rect x="1029" y="352" width="1" height="25" fill="#000"/>
<rect x="1024" y="364" width="11" height="8" fill="#000"/>
<rect x="1025" y="365" width="9" height="6" fill="#ff0000"/>
<rect x="1045" y="347" width="1" height="107" fill="#000"/>
<rect x="1040" y="365" width="11" height="76" fill="#000"/>
<rect x="1041" y="366" width="9" height="74" fill="#00ff00"/>
<rect x="1061" y="422" width="1" height="60" fill="#000"/>
<rect x="1056" y="441" width="11" height="23" fill="#000"/>
<rect x="1057" y="442" width="9" height="21" fill="#00ff00"/>
<rect x="1077" y="416" width="1" height="51" fill="#000"/>
<rect x="1072" y="423" width="11" height="41" fill="#000"/>
<rect x="1073" y="424" width="9" height="39" fill="#ff0000"/>
<rect x="1093" y="352" width="1" height="87" fill="#000"/>
<rect x="1088" y="423" width="11" height="15" fill="#000"/>
<rect x="1089" y="424" width="9" height="13" fill="#00ff00"/>
<rect x="1109" y="419" width="1" height="19" fill="#000"/>
<rect x="1104" y="430" width="11" height="8" fill="#000"/>
<rect x="1105" y="431" width="9" height="6" fill="#ff0000"/>
<rect x="1125" y="416" width="1" height="15" fill="#000"/>
<rect x="1120" y="428" width="11" height="3" fill="#000"/>
<rect x="1121" y="429" width="9" height="1" fill="#ff0000"/>
<rect x="1141" y="425" width="1" height="85" fill="#000"/>
<rect x="1136" y="428" width="11" height="50" fill="#000"/>
<rect x="1137" y="429" width="9" height="48" fill="#00ff00"/>
<rect x="1157" y="473" width="1" height="35" fill="#000"/>
<rect x="1152" y="477" width="11" height="3" fill="#000"/>
<rect x="1153" y="478" width="9" height="1" fill="#00ff00"/>
<rect x="1173" y="472" width="1" height="49" fill="#000"/>
<rect x="1168" y="478" width="11" height="10" fill="#000"/>
<rect x="1169" y="479" width="9" height="8" fill="#00ff00"/>
<rect x="1189" y="481" width="1" height="57" fill="#000"/>
<rect x="1184" y="487" width="11" height="38" fill="#000"/>
<rect x="1185" y="488" width="9" height="36" fill="#00ff00"/>
<rect x="1205" y="513" width="1" height="24" fill="#000"/>
<rect x="1200" y="524" width="11" height="12" fill="#000"/>
<rect x="1201" y="525" width="9" height="10" fill="#00ff00"/>
<rect x="1221" y="529" width="1" height="23" fill="#000"/>
<rect x="1216" y="534" width="11" height="16" fill="#000"/>
<rect x="1217" y="535" width="9" height="14" fill="#00ff00"/>
<rect x="1237" y="542" width="1" height="70" fill="#000"/>
<rect x="1232" y="551" width="11" height="34" fill="#000"/>
<rect x="1233" y="552" width="9" height="32" fill="#00ff00"/>
<rect x="1253" y="569" width="1" height="42" fill="#000"/>
<rect x="1248" y="584" width="11" height="2" fill="#000"/>
<rect x="1269" y="563" width="1" height="31" fill="#000"/>
<rect x="1264" y="575" width="11" height="11" fill="#000"/>
<rect x="1265" y="576" width="9" height="9" fill="#ff0000"/>
<rect x="1285" y="488" width="1" height="109" fill="#000"/>
<rect x="1280" y="494" width="11" height="82" fill="#000"/>
<rect x="1281" y="495" width="9" height="80" fill="#ff0000"/>
<rect x="1301" y="446" width="1" height="57" fill="#000"/>
<rect x="1296" y="446" width="11" height="48" fill="#000"/>
<rect x="1297" y="447" width="9" height="46" fill="#ff0000"/>
<rect x="1317" y="434" width="1" height="14" fill="#000"/>
<rect x="1312" y="436" width="11" height="11" fill="#000"/>
<rect x="1313" y="437" width="9" height="9" fill="#ff0000"/>
<rect x="1333" y="435" width="1" height="13" fill="#000"/>
<rect x="1328" y="435" width="11" height="13" fill="#000"/>
<rect x="1329" y="436" width="9" height="11" fill="#00ff00"/>
<rect x="5" y="364" width="1611" height="2" fill="#ff0000"/>
<rect x="5" y="404" width="1611" height="2" fill="#dc143c"/>
<rect x="5" y="464" width="1611" height="2" fill="#ffa500"/>
<rect x="5" y="503" width="1611" height="2" fill="#0000ff"/>
<rect x="5" y="538" width="1611" height="2" fill="#0000ff"/>
<rect x="4" y="362" width="6" height="6" fill="#ff0000"/>
<rect x="6" y="364" width="2" height="2" fill="#ffffff"/>
<rect x="1610" y="362" width="6" height="6" fill="#ff0000"/>
<rect x="1612" y="364" width="2" height="2" fill="#ffffff"/>
<rect x="4" y="402" width="6" height="6" fill="#dc143c"/>
<rect x="6" y="404" width="2" height="2" fill="#ffffff"/>
<rect x="1610" y="402" width="6" height="6" fill="#dc143c"/>
<rect x="1612" y="404" width="2" height="2" fill="#ffffff"/>
<rect x="4" y="462" width="6" height="6" fill="#ffa500"/>
<rect x="6" y="464" width="2" height="2" fill="#ffffff"/>
<rect x="1610" y="462" width="6" height="6" fill="#ffa500"/>
<rect x="1612" y="464" width="2" height="2" fill="#ffffff"/>
<rect x="4" y="501" width="6" height="6" fill="#0000ff"/>
<rect x="6" y="503" width="2" height="2" fill="#ffffff"/>
<rect x="1610" y="501" width="6" height="6" fill="#0000ff"/>
<rect x="1612" y="503" width="2" height="2" fill="#ffffff"/>
<rect x="4" y="536" width="6" height="6" fill="#0000ff"/>
<rect x="6" y="538" width="2" height="2" fill="#ffffff"/>
<rect x="1610" y="536" width="6" height="6" fill="#0000ff"/>
<rect x="1612" y="538" width="2" height="2" fill="#ffffff"/>
</g>
<rect x="4" y="362" width="6" height="6" fill="#ff0000"/>
<rect x="6" y="364" width="2" height="2" fill="#ffffff"/>
<rect x="4" y="402" width="6" height="6" fill="#dc143c"/>
<rect x="6" y="404" width="2" height="2" fill="#ffffff"/>
<rect x="4" y="462" width="6" height="6" fill="#ffa500"/>
<rect x="6" y="464" width="2" height="2" fill="#ffffff"/>
<rect x="4" y="501" width="6" height="6" fill="#0000ff"/>
<rect x="6" y="503" width="2" height="2" fill="#ffffff"/>
<rect x="4" y="536" width="6" height="6" fill="#0000ff"/>
<rect x="6" y="538" width="2" height="2" fill="#ffffff"/>
<g shape-rendering="auto">
<line x1="1292.5" y1="584" x2="1352" y2="473.5" stroke="#e6192b" stroke-width="2.9"/>
<polygon points="1359.6,459.3 1343.2,471.3 1358.7,480" fill="#e6192b"/>
</g>
<rect x="4" y="26" width="1613" height="1" fill="#000"/>
<rect x="4" y="625" width="1613" height="1" fill="#000"/>
<rect x="4" y="26" width="1" height="600" fill="#000"/>
<rect x="1616" y="26" width="1" height="600" fill="#000"/>
<rect x="4" y="627" width="1613" height="1" fill="#000"/>
<rect x="4" y="727" width="1613" height="1" fill="#000"/>
<rect x="4" y="627" width="1" height="101" fill="#000"/>
<rect x="1616" y="627" width="1" height="101" fill="#000"/>
<rect x="4" y="729" width="1613" height="1" fill="#000"/>
<rect x="4" y="819" width="1613" height="1" fill="#000"/>
<rect x="4" y="729" width="1" height="91" fill="#000"/>
<rect x="1616" y="729" width="1" height="91" fill="#000"/>
<rect x="4" y="362" width="6" height="6" fill="#ff0000"/>
<rect x="6" y="364" width="2" height="2" fill="#ffffff"/>
<rect x="1610" y="362" width="6" height="6" fill="#ff0000"/>
<rect x="1612" y="364" width="2" height="2" fill="#ffffff"/>
<rect x="4" y="402" width="6" height="6" fill="#dc143c"/>
<rect x="6" y="404" width="2" height="2" fill="#ffffff"/>
<rect x="1610" y="402" width="6" height="6" fill="#dc143c"/>
<rect x="1612" y="404" width="2" height="2" fill="#ffffff"/>
<rect x="4" y="462" width="6" height="6" fill="#ffa500"/>
<rect x="6" y="464" width="2" height="2" fill="#ffffff"/>
<rect x="1610" y="462" width="6" height="6" fill="#ffa500"/>
<rect x="1612" y="464" width="2" height="2" fill="#ffffff"/>
<rect x="4" y="501" width="6" height="6" fill="#0000ff"/>
<rect x="6" y="503" width="2" height="2" fill="#ffffff"/>
<rect x="1610" y="501" width="6" height="6" fill="#0000ff"/>
<rect x="1612" y="503" width="2" height="2" fill="#ffffff"/>
<rect x="4" y="536" width="6" height="6" fill="#0000ff"/>
<rect x="6" y="538" width="2" height="2" fill="#ffffff"/>
<rect x="1610" y="536" width="6" height="6" fill="#0000ff"/>
<rect x="1612" y="538" width="2" height="2" fill="#ffffff"/>
<polygon points="1368.5,27 1378.5,27 1373.5,32.5" fill="#000" shape-rendering="auto"/>
<rect x="1617" y="28" width="2" height="1" fill="#000"/>
<g transform="translate(1622.5,32) scale(0.902,1)"><text class="ax">139.825</text></g>
<rect x="1617" y="61" width="2" height="1" fill="#000"/>
<g transform="translate(1622.5,65) scale(0.902,1)"><text class="ax">139.300</text></g>
<rect x="1617" y="94" width="2" height="1" fill="#000"/>
<g transform="translate(1622.5,98) scale(0.902,1)"><text class="ax">138.760</text></g>
<rect x="1617" y="127" width="2" height="1" fill="#000"/>
<g transform="translate(1622.5,131) scale(0.902,1)"><text class="ax">138.235</text></g>
<rect x="1617" y="160" width="2" height="1" fill="#000"/>
<g transform="translate(1622.5,164) scale(0.902,1)"><text class="ax">137.695</text></g>
<rect x="1617" y="193" width="2" height="1" fill="#000"/>
<g transform="translate(1622.5,197) scale(0.902,1)"><text class="ax">137.155</text></g>
<rect x="1617" y="226" width="2" height="1" fill="#000"/>
<g transform="translate(1622.5,230) scale(0.902,1)"><text class="ax">136.630</text></g>
<rect x="1617" y="259" width="2" height="1" fill="#000"/>
<g transform="translate(1622.5,263) scale(0.902,1)"><text class="ax">136.090</text></g>
<rect x="1617" y="292" width="2" height="1" fill="#000"/>
<g transform="translate(1622.5,296) scale(0.902,1)"><text class="ax">135.565</text></g>
<rect x="1617" y="325" width="2" height="1" fill="#000"/>
<g transform="translate(1622.5,329) scale(0.902,1)"><text class="ax">135.025</text></g>
<rect x="1617" y="358" width="2" height="1" fill="#000"/>
<g transform="translate(1622.5,362) scale(0.902,1)"><text class="ax">134.485</text></g>
<rect x="1617" y="391" width="2" height="1" fill="#000"/>
<g transform="translate(1622.5,395) scale(0.902,1)"><text class="ax">133.960</text></g>
<rect x="1617" y="424" width="2" height="1" fill="#000"/>
<g transform="translate(1622.5,428) scale(0.902,1)"><text class="ax">133.420</text></g>
<rect x="1617" y="457" width="2" height="1" fill="#000"/>
<g transform="translate(1622.5,461) scale(0.902,1)"><text class="ax">132.895</text></g>
<rect x="1617" y="490" width="2" height="1" fill="#000"/>
<g transform="translate(1622.5,494) scale(0.902,1)"><text class="ax">132.355</text></g>
<rect x="1617" y="523" width="2" height="1" fill="#000"/>
<g transform="translate(1622.5,527) scale(0.902,1)"><text class="ax">131.815</text></g>
<rect x="1617" y="556" width="2" height="1" fill="#000"/>
<g transform="translate(1622.5,560) scale(0.902,1)"><text class="ax">131.290</text></g>
<rect x="1617" y="589" width="2" height="1" fill="#000"/>
<g transform="translate(1622.5,593) scale(0.902,1)"><text class="ax">130.750</text></g>
<rect x="1617" y="622" width="2" height="1" fill="#000"/>
<g transform="translate(1622.5,626) scale(0.902,1)"><text class="ax">130.225</text></g>
<rect x="1618" y="443" width="41" height="11" fill="#000000"/>
<g transform="translate(1622.5,452) scale(0.902,1)"><text class="ax axw">133.043</text></g>
<rect x="1618" y="359" width="41" height="11" fill="#ff0000"/>
<g transform="translate(1622.5,368) scale(0.902,1)"><text class="ax axw">134.380</text></g>
<rect x="1618" y="399" width="41" height="11" fill="#dc143c"/>
<g transform="translate(1622.5,408) scale(0.902,1)"><text class="ax axw">133.734</text></g>
<rect x="1618" y="459" width="41" height="11" fill="#ffa500"/>
<g transform="translate(1622.5,468) scale(0.902,1)"><text class="ax axw">132.765</text></g>
<rect x="1618" y="498" width="41" height="11" fill="#0000ff"/>
<g transform="translate(1622.5,507) scale(0.902,1)"><text class="ax axw">132.135</text></g>
<rect x="1618" y="533" width="41" height="11" fill="#0000ff"/>
<g transform="translate(1622.5,542) scale(0.902,1)"><text class="ax axw">131.569</text></g>
<g clip-path="url(#cmacd)">
<rect x="4" y="642" width="3" height="21" fill="#00ff00"/>
<rect x="20" y="639" width="3" height="24" fill="#00ff00"/>
<rect x="36" y="637" width="3" height="26" fill="#00ff00"/>
<rect x="52" y="635" width="3" height="28" fill="#00ff00"/>
<rect x="68" y="634" width="3" height="29" fill="#00ff00"/>
<rect x="84" y="633" width="3" height="30" fill="#00ff00"/>
<rect x="100" y="633" width="3" height="30" fill="#00ff00"/>
<rect x="116" y="634" width="3" height="29" fill="#00ff00"/>
<rect x="132" y="637" width="3" height="26" fill="#00ff00"/>
<rect x="148" y="638" width="3" height="25" fill="#00ff00"/>
<rect x="164" y="640" width="3" height="23" fill="#00ff00"/>
<rect x="180" y="643" width="3" height="20" fill="#00ff00"/>
<rect x="196" y="645" width="3" height="18" fill="#00ff00"/>
<rect x="212" y="647" width="3" height="16" fill="#00ff00"/>
<rect x="228" y="649" width="3" height="14" fill="#00ff00"/>
<rect x="244" y="651" width="3" height="12" fill="#00ff00"/>
<rect x="260" y="652" width="3" height="11" fill="#00ff00"/>
<rect x="276" y="654" width="3" height="9" fill="#00ff00"/>
<rect x="292" y="656" width="3" height="7" fill="#00ff00"/>
<rect x="308" y="659" width="3" height="4" fill="#00ff00"/>
<rect x="324" y="660" width="3" height="3" fill="#00ff00"/>
<rect x="340" y="660" width="3" height="3" fill="#00ff00"/>
<rect x="356" y="660" width="3" height="3" fill="#00ff00"/>
<rect x="372" y="660" width="3" height="3" fill="#00ff00"/>
<rect x="388" y="660" width="3" height="3" fill="#00ff00"/>
<rect x="404" y="660" width="3" height="3" fill="#00ff00"/>
<rect x="420" y="660" width="3" height="3" fill="#00ff00"/>
<rect x="436" y="660" width="3" height="3" fill="#00ff00"/>
<rect x="452" y="660" width="3" height="3" fill="#00ff00"/>
<rect x="468" y="660" width="3" height="3" fill="#00ff00"/>
<rect x="484" y="658" width="3" height="5" fill="#00ff00"/>
<rect x="500" y="656" width="3" height="7" fill="#00ff00"/>
<rect x="516" y="660" width="3" height="3" fill="#00ff00"/>
<rect x="532" y="661" width="3" height="2" fill="#00ff00"/>
<rect x="548" y="663" width="3" height="3" fill="#00ff00"/>
<rect x="564" y="663" width="3" height="4" fill="#00ff00"/>
<rect x="580" y="663" width="3" height="5" fill="#00ff00"/>
<rect x="596" y="663" width="3" height="9" fill="#00ff00"/>
<rect x="612" y="663" width="3" height="14" fill="#00ff00"/>
<rect x="628" y="663" width="3" height="18" fill="#00ff00"/>
<rect x="644" y="663" width="3" height="20" fill="#00ff00"/>
<rect x="660" y="663" width="3" height="21" fill="#00ff00"/>
<rect x="676" y="663" width="3" height="22" fill="#00ff00"/>
<rect x="692" y="663" width="3" height="22" fill="#00ff00"/>
<rect x="708" y="663" width="3" height="21" fill="#00ff00"/>
<rect x="724" y="663" width="3" height="20" fill="#00ff00"/>
<rect x="740" y="663" width="3" height="18" fill="#00ff00"/>
<rect x="756" y="663" width="3" height="18" fill="#00ff00"/>
<rect x="772" y="663" width="3" height="18" fill="#00ff00"/>
<rect x="788" y="663" width="3" height="17" fill="#00ff00"/>
<rect x="804" y="663" width="3" height="16" fill="#00ff00"/>
<rect x="820" y="663" width="3" height="15" fill="#00ff00"/>
<rect x="836" y="663" width="3" height="13" fill="#00ff00"/>
<rect x="852" y="663" width="3" height="11" fill="#00ff00"/>
<rect x="868" y="663" width="3" height="10" fill="#00ff00"/>
<rect x="884" y="663" width="3" height="9" fill="#00ff00"/>
<rect x="900" y="663" width="3" height="7" fill="#00ff00"/>
<rect x="916" y="663" width="3" height="8" fill="#00ff00"/>
<rect x="932" y="663" width="3" height="10" fill="#00ff00"/>
<rect x="948" y="663" width="3" height="14" fill="#00ff00"/>
<rect x="964" y="663" width="3" height="16" fill="#00ff00"/>
<rect x="980" y="663" width="3" height="17" fill="#00ff00"/>
<rect x="996" y="663" width="3" height="23" fill="#00ff00"/>
<rect x="1012" y="663" width="3" height="27" fill="#00ff00"/>
<rect x="1028" y="663" width="3" height="30" fill="#00ff00"/>
<rect x="1044" y="663" width="3" height="36" fill="#00ff00"/>
<rect x="1060" y="663" width="3" height="42" fill="#00ff00"/>
<rect x="1076" y="663" width="3" height="44" fill="#00ff00"/>
<rect x="1092" y="663" width="3" height="46" fill="#00ff00"/>
<rect x="1108" y="663" width="3" height="46" fill="#00ff00"/>
<rect x="1124" y="663" width="3" height="46" fill="#00ff00"/>
<rect x="1140" y="663" width="3" height="48" fill="#00ff00"/>
<rect x="1156" y="663" width="3" height="49" fill="#00ff00"/>
<rect x="1172" y="663" width="3" height="50" fill="#00ff00"/>
<rect x="1188" y="663" width="3" height="52" fill="#00ff00"/>
<rect x="1204" y="663" width="3" height="54" fill="#00ff00"/>
<rect x="1220" y="663" width="3" height="56" fill="#00ff00"/>
<rect x="1236" y="663" width="3" height="59" fill="#00ff00"/>
<rect x="1252" y="663" width="3" height="60" fill="#00ff00"/>
<rect x="1268" y="663" width="3" height="60" fill="#00ff00"/>
<rect x="1284" y="663" width="3" height="53" fill="#00ff00"/>
<rect x="1300" y="663" width="3" height="47" fill="#00ff00"/>
<rect x="1316" y="663" width="3" height="40" fill="#00ff00"/>
<rect x="1332" y="663" width="3" height="35" fill="#00ff00"/>
<polyline points="5,649.0 21,648.0 37,646.0 53,644.0 69,642.3 85,640.8 101,639.3 117,638.0 133,636.8 149,635.6 158,635.2 165,635.5 181,636.6 197,637.7 213,640.0 229,642.0 245,644.0 261,646.0 277,648.0 293,650.0 309,652.0 325,653.8 341,655.0 357,656.3 373,657.3 389,658.3 405,659.0 421,659.5 437,660.0 469,660.0 485,659.5 501,659.0 533,659.2 549,660.0 565,660.5 581,661.5 597,662.8 600,663.2 609,664.4 615,665.3 621,666.3 627,667.3 632,668.2 637,669.2 643,670.1 649,671.1 657,672.2 664,673.1 669,674.1 675,675.0 681,676.0 689,677.2 698,678.1 705,679.1 717,680.0 729,681.0 737,682.0 800,682.0 806,681.0 835,681.0 837,680.0 853,679.3 869,677.5 885,676.5 901,675.5 917,674.5 933,673.5 949,673.0 965,673.0 981,673.3 997,675.0 1013,677.5 1029,679.5 1045,682.5 1061,686.5 1077,690.5 1093,693.5 1109,697.5 1125,700.5 1141,703.5 1157,705.5 1173,707.5 1189,709.5 1196,710 1205,710 1206,711 1213,711 1214,712 1222,712 1223,713 1237,713 1238,714 1245,714 1246,715 1254,715 1255,716 1269,716 1270,717 1317,717 1318,716 1326,716 1327,715 1334,715" fill="none" stroke="#ff0000" stroke-width="2" shape-rendering="crispEdges"/>
</g>
<rect x="1617" y="629" width="2" height="1" fill="#000"/>
<rect x="1617" y="663" width="2" height="1" fill="#000"/>
<rect x="1617" y="726" width="2" height="1" fill="#000"/>
<g transform="translate(1620.3,638) scale(0.902,1)"><text class="ax">0.7684</text></g>
<g transform="translate(1620.3,667) scale(0.902,1)"><text class="ax">0.00</text></g>
<g transform="translate(1620,724) scale(0.902,1)"><text class="ax">-1.411</text></g>
<g transform="translate(9.5,640) scale(0.935,1)"><text class="ax">MACD(12,26,9) -0.7444 -1.1239</text></g>
<g clip-path="url(#crsi)">
<line x1="6" y1="748.5" x2="1616" y2="748.5" stroke="#000" stroke-width="1" stroke-dasharray="3,3"/>
<line x1="6" y1="774.5" x2="1616" y2="774.5" stroke="#000" stroke-width="1" stroke-dasharray="3,3"/>
<line x1="6" y1="805.5" x2="1616" y2="805.5" stroke="#000" stroke-width="1" stroke-dasharray="3,3"/>
<polyline points="5,749.5 12,750.5 18,752.5 37,753.0 40,753.5 69,753.5 72,752.5 85,752.5 93,753.5 101,754.5 117,760.5 128,762.5 151,762.5 163,767.5 182,767.5 194,771.5 202,771.5 208,770.0 229,770.0 240,772.0 250,773.3 257,771.0 264,771.0 271,773.3 281,776.2 295,779.6 303,782.8 311,782.8 321,777.7 331,773.9 343,770.9 357,770.9 367,772.9 389,772.9 390,771.8 437,771.8 449,767.9 458,767.9 464,769.8 472,769.8 486,764.8 495,763.8 502,763.8 510,770.8 517,778.7 532,782.8 548,787.8 551,787.8 563,780.0 580,780.0 594,787.6 600,788.4 610,791.5 629,791.5 638,789.9 647,788.8 669,788.8 678,786.9 688,785.0 694,783.7 702,782.7 725,782.7 731,784.6 737,785.9 749,785.9 758,784.0 769,782.1 775,780.6 789,780.6 790,781.8 809,781.8 821,777.9 830,776.8 839,775.8 872,775.8 882,778.9 887,778.9 901,769.8 917,781.7 926,783.1 934,785.2 948,790.7 954,790.7 965,787.8 974,786.5 983,786.5 996,794.7 1032,794.9 1035,796.8 1045,799.7 1054,800.7 1063,800.7 1068,797.2 1076,792.8 1110,792.8 1111,791.8 1125,791.8 1131,794.0 1138,795.7 1173,795.7 1179,797.8 1189,799.7 1204,799.7 1206,800.9 1221,800.9 1222,801.8 1229,801.8 1230,802.9 1258,802.9 1259,801.8 1264,801.8 1265,800.8 1269,800.8 1277,792.0 1285,782.6 1293,779.9 1301,776.0 1334,775.8" fill="none" stroke="#1e90ff" stroke-width="2" shape-rendering="crispEdges"/>
</g>
<rect x="1617" y="731" width="2" height="1" fill="#000"/>
<rect x="1617" y="818" width="1" height="1" fill="#000"/>
<g transform="translate(1620.4,740) scale(0.902,1)"><text class="ax">100</text></g>
<g transform="translate(1619,752) scale(0.902,1)"><text class="ax">80</text></g>
<g transform="translate(1619,778) scale(0.902,1)"><text class="ax">50</text></g>
<g transform="translate(1619.5,809) scale(0.902,1)"><text class="ax">15</text></g>
<g transform="translate(1620,816) scale(0.902,1)"><text class="ax">0</text></g>
<g transform="translate(9.3,742) scale(0.92,1)"><text class="ax">RSI(14) 47.7501</text></g>
<rect x="5" y="820" width="1" height="3" fill="#000"/>
<g transform="translate(4.1,832) scale(0.906,1)"><text class="ax">14 Jul 2022</text></g>
<rect x="69" y="820" width="1" height="3" fill="#000"/>
<g transform="translate(68.1,832) scale(0.906,1)"><text class="ax">14 Jul 20:00</text></g>
<rect x="133" y="820" width="1" height="3" fill="#000"/>
<g transform="translate(132.1,832) scale(0.906,1)"><text class="ax">15 Jul 12:00</text></g>
<rect x="197" y="820" width="1" height="3" fill="#000"/>
<g transform="translate(196.1,832) scale(0.906,1)"><text class="ax">18 Jul 04:00</text></g>
<rect x="261" y="820" width="1" height="3" fill="#000"/>
<g transform="translate(260.1,832) scale(0.906,1)"><text class="ax">18 Jul 20:00</text></g>
<rect x="325" y="820" width="1" height="3" fill="#000"/>
<g transform="translate(324.1,832) scale(0.906,1)"><text class="ax">19 Jul 12:00</text></g>
<rect x="389" y="820" width="1" height="3" fill="#000"/>
<g transform="translate(388.1,832) scale(0.906,1)"><text class="ax">20 Jul 04:00</text></g>
<rect x="453" y="820" width="1" height="3" fill="#000"/>
<g transform="translate(452.1,832) scale(0.906,1)"><text class="ax">20 Jul 20:00</text></g>
<rect x="517" y="820" width="1" height="3" fill="#000"/>
<g transform="translate(516.1,832) scale(0.906,1)"><text class="ax">21 Jul 12:00</text></g>
<rect x="581" y="820" width="1" height="3" fill="#000"/>
<g transform="translate(580.1,832) scale(0.906,1)"><text class="ax">22 Jul 04:00</text></g>
<rect x="645" y="820" width="1" height="3" fill="#000"/>
<g transform="translate(644.1,832) scale(0.906,1)"><text class="ax">24 Jul 23:00</text></g>
<rect x="709" y="820" width="1" height="3" fill="#000"/>
<g transform="translate(708.1,832) scale(0.906,1)"><text class="ax">25 Jul 12:00</text></g>
<rect x="773" y="820" width="1" height="3" fill="#000"/>
<g transform="translate(772.1,832) scale(0.906,1)"><text class="ax">26 Jul 04:00</text></g>
<rect x="837" y="820" width="1" height="3" fill="#000"/>
<g transform="translate(836.1,832) scale(0.906,1)"><text class="ax">26 Jul 20:00</text></g>
<rect x="901" y="820" width="1" height="3" fill="#000"/>
<g transform="translate(900.1,832) scale(0.906,1)"><text class="ax">27 Jul 12:00</text></g>
<rect x="965" y="820" width="1" height="3" fill="#000"/>
<g transform="translate(964.1,832) scale(0.906,1)"><text class="ax">28 Jul 04:00</text></g>
<rect x="1029" y="820" width="1" height="3" fill="#000"/>
<g transform="translate(1028.1,832) scale(0.906,1)"><text class="ax">28 Jul 20:00</text></g>
<rect x="1093" y="820" width="1" height="3" fill="#000"/>
<g transform="translate(1092.1,832) scale(0.906,1)"><text class="ax">29 Jul 12:00</text></g>
<rect x="1157" y="820" width="1" height="3" fill="#000"/>
<g transform="translate(1156.1,832) scale(0.96,1)"><text class="ax">1 Aug 04:00</text></g>
<rect x="1221" y="820" width="1" height="3" fill="#000"/>
<g transform="translate(1220.1,832) scale(0.96,1)"><text class="ax">1 Aug 20:00</text></g>
<rect x="1285" y="820" width="1" height="3" fill="#000"/>
<g transform="translate(1284.1,832) scale(0.96,1)"><text class="ax">2 Aug 12:00</text></g>
<polygon points="8,33 15,33 11.5,37" fill="#000" shape-rendering="auto"/>
<g transform="translate(20.2,38) scale(0.93,1)"><text class="ax">USDJPY-,H4&#160; 133.242 133.242 133.042 133.043</text></g>
</svg></body></html>
